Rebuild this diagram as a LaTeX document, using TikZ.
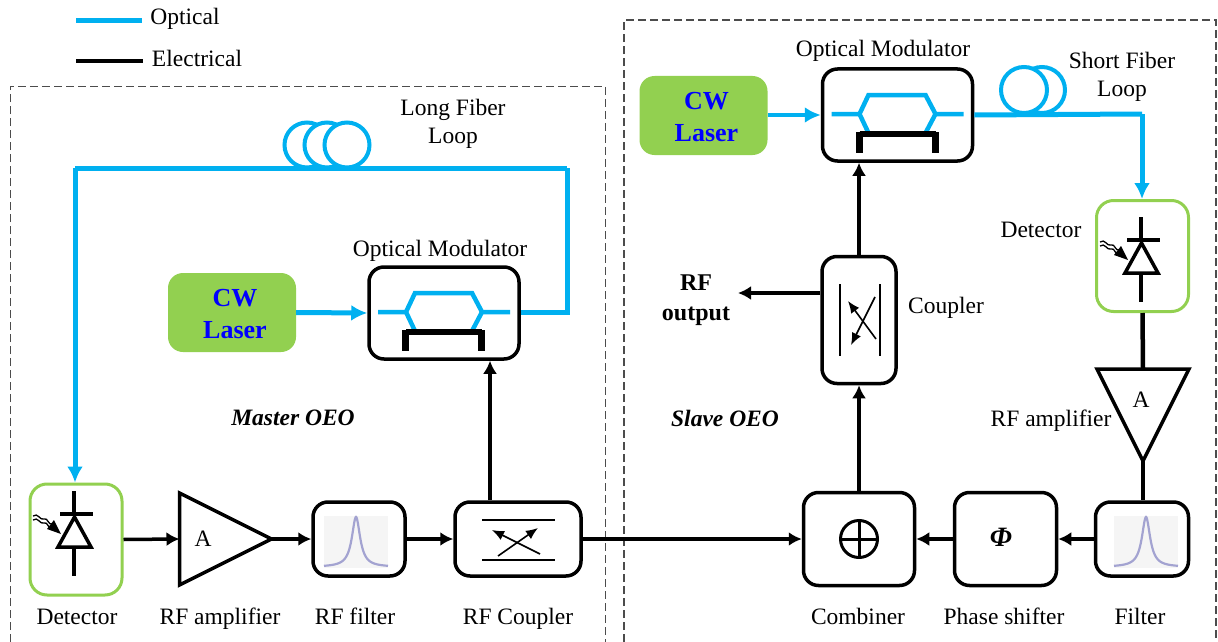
\documentclass[tikz,border=0pt]{standalone}
\usepackage{fontspec}
\setmainfont{Liberation Serif}
\usetikzlibrary{arrows.meta,shapes.geometric}
\definecolor{fibre}{RGB}{0,176,240}
\definecolor{leaf}{RGB}{146,208,80}
\definecolor{peak}{RGB}{120,120,190}
\tikzset{
  txt/.style={font=\fontsize{23.5}{28}\selectfont,inner sep=0pt,align=center},
  caption/.style={txt,anchor=base},
  boldtxt/.style={font=\fontsize{24}{30}\selectfont\bfseries,inner sep=0pt,align=center},
  slanttxt/.style={font=\fontsize{23.5}{30}\selectfont\bfseries\itshape,inner sep=0pt,align=center},
  lasertxt/.style={font=\fontsize{26}{32}\selectfont\bfseries,text=blue,align=center,inner sep=0pt},
  block/.style={draw,line width=3.5pt,rounded corners=15pt,minimum width=#1,inner sep=0pt},
  detbox/.style={draw=leaf,line width=3pt,rounded corners=17pt,minimum width=92pt,minimum height=111pt},
  laser/.style={fill=leaf,rounded corners=15pt,minimum width=128pt,minimum height=79pt,inner sep=0pt},
  amp/.style={draw,isosceles triangle,isosceles triangle stretches,line width=3.5pt,minimum width=92pt,minimum height=92pt,inner sep=0pt,outer sep=0pt,anchor=lower side},
  elec/.style={line width=3.5pt,-{Latex[length=13pt,width=14pt]}},
  wire/.style={line width=4.5pt},
  opt/.style={draw=fibre,line width=5pt,-{Latex[length=16pt,width=16pt]}},
  fib/.style={draw=fibre,line width=5pt},
  coil/.style={draw=fibre,line width=4pt,circle,fill=white,minimum size=45pt,inner sep=0pt},
  thin arrow/.style={line width=1.6pt,-{Latex[length=12pt,width=10pt]}},
  bound/.style={draw=black!70,line width=1pt,dash pattern=on 8pt off 4pt}
}
\begin{document}
\begin{tikzpicture}[x=1pt,y=-1pt,>=latex]
\useasboundingbox (0,0) rectangle (1218,642);
% group outlines
\draw[bound] (10,642) -- (10,86) -- (605,86) -- (605,642);
\draw[bound,line width=1.2pt] (624,642) -- (624,20) -- (1216,20) -- (1216,642);
% legend
\coordinate (optA) at (76,21);
\coordinate (optB) at (142,21);
\coordinate (elA) at (76,61);
\coordinate (elB) at (143,61);
\draw[fibre,line width=5pt] (optA) -- (optB);
\draw[line width=4pt] (elA) -- (elB);
\node[txt] (optical) at (185,18.5) {Optical};
\node[txt] (electrical) at (197,58) {Electrical};

% blocks
\node[detbox] (detM) at (76,539.5) {};
\node[block=92pt,minimum height=74pt] (filM) at (359,539) {};
\node[block=126pt,minimum height=74pt] (cplM) at (518,539) {};
\node[block=150pt,minimum height=92pt] (modM) at (444,313) {};
\node[laser] (lasM) at (232,312.5) {};
\node[lasertxt] (lasMtxt) at (235,314.5) {CW\\Laser};
\node[amp] (ampM) at (179.5,539) {};
\node[block=150pt,minimum height=92pt] (modS) at (897.5,115) {};
\node[laser] (lasS) at (703.5,115.5) {};
\node[lasertxt] (lasStxt) at (706.5,117.5) {CW\\Laser};
\node[block=74pt,minimum height=127pt] (cplS) at (859,320) {};
\node[detbox] (detS) at (1142.5,256) {};
\node[amp,shape border rotate=270] (ampS) at (1143,369) {};
\node[block=93pt,minimum height=74pt] (filS) at (1142,539) {};
\node[block=102pt,minimum height=93pt] (phs) at (1005.5,539) {};
\node[slanttxt,font=\fontsize{28}{30}\selectfont\bfseries\itshape] (phi) at (1001,537) {Φ};
\node[block=111pt,minimum height=93pt] (cmb) at (859,539) {};
\node[draw,circle,line width=3pt,minimum size=37pt,inner sep=0pt] (sum) at (859,539) {};
\draw[line width=3pt] (sum.north) -- (sum.south);
\draw[line width=3pt] (sum.west) -- (sum.east);

% fibre loops
\coordinate (fibB) at (75,168);
\coordinate (fibC) at (567,168);
\coordinate (fibD) at (567,312);
\node[coil] (coilA) at (307,145) {};
\node[coil] (coilB) at (327,145) {};
\node[coil] (coilC) at (347,145) {};
\node[coil,minimum size=46pt] (coilE) at (1042,90) {};
\node[coil,minimum size=46pt] (coilD) at (1024,90) {};
\coordinate (fibE) at (1142,114);
\draw[fib] (modM.east |- fibD) -- (fibD) -- (fibC);
\draw[fib] (fibC) -- (fibB);
\draw[opt] (fibB) -- (detM.north -| fibB);
\draw[opt] (lasM.east) -- (modM.west);
\draw[opt,line width=4pt] (lasS.east |- modS.west) -- (modS.west);
\draw[fib] (modS.east) -- (fibE);
\draw[opt] (fibE) -- (detS.north -| fibE);

% modulator insides
\foreach \mx/\my in {444/312,897.5/114}{
  \begin{scope}[shift={(\mx,\my)}]
    \draw[fibre,line width=4.5pt] (-66,0) -- (-38,0) -- (-29,-19) -- (28,-19) -- (38,0) -- (66,0);
    \draw[fibre,line width=4.5pt] (-38,0) -- (-29,19) (38,0) -- (28,19);
    \draw[line width=6pt] (-38,20) -- (38,20);
    \draw[line width=7pt] (-38.5,18) -- (-38.5,39);
    \draw[line width=7pt] (37.5,18) -- (37.5,39);
  \end{scope}
}
% diode symbols
\foreach \dx/\dy in {0/0,1067/-274}{
  \begin{scope}[shift={(\dx,\dy)}]
    \draw[line width=4pt] (74,491) -- (74,514);
    \draw[line width=4pt] (60,514) -- (93,514);
    \draw[line width=3.5pt,line join=miter] (74.5,517) -- (58,547) -- (91,547) -- cycle;
    \draw[line width=4pt] (74,547) -- (74,576);
    \draw[line width=1.3pt] (33,516) .. controls (38,512) and (40,521) .. (44,519) .. controls (48,517) and (48,526) .. (53,524);
    \draw[line width=1.3pt] (33,520) .. controls (38,516) and (40,525) .. (44,523) .. controls (48,521) and (48,530) .. (52,528);
    \fill (61,534) -- (47,529) -- (54,520) -- cycle;
  \end{scope}
}
% filter pictures
\foreach \fx/\fy in {356/542,1146/542}{
  \begin{scope}[shift={(\fx,\fy)}]
    \fill[black!4] (-32,-26) rectangle (32,26);
    \draw[peak,line width=2.2pt,opacity=.65,domain=-32:32,samples=121,smooth] plot (\x,{25-50/(1+(\x/5)*(\x/5))});
  \end{scope}
}
% coupler insides
\draw[line width=1.6pt] (482,520) -- (555,520);
\draw[line width=2.2pt] (482,560) -- (555,560);
\draw[thin arrow] (498,556) -- (538,528);
\draw[thin arrow] (540,554) -- (492,530);
\draw[line width=2pt] (840,284) -- (840,356);
\draw[line width=2pt] (880,284) -- (880,356);
\draw[thin arrow] (875,297) -- (851,345);
\draw[thin arrow] (876,339) -- (848,301);

% electrical links
\path[elec] (detM.east) edge (ampM.lower side);
\path[elec] (ampM.apex) edge (filM.west);
\path[elec] (filM.east) edge (cplM.west);
\path[elec] (cplM.east) edge (cmb.west);
\path[elec] (filS.west) edge (phs.east);
\path[elec] (phs.west) edge (cmb.east);
\path[elec] (cmb.north) edge (cplS.south);
\path[elec] (cplS.north) edge (modS.south -| cplS.north);
\path[wire] (detS.south) edge (ampS.lower side);
\path[wire] (ampS.apex) edge (filS.north -| ampS.apex);
\coordinate (rfout) at (738,293);
\coordinate (feedM) at (490,430);
\path[elec] (cplM.north -| feedM) edge (modM.south -| feedM);
\path[elec] (cplS.west |- rfout) edge (rfout);

% labels
\node[txt] (lblLong) at (453,124) {Long Fiber\\Loop};
\node[txt] (lblShort) at (1122,77) {Short Fiber\\Loop};
\node[txt] (lblModM) at (440,250.5) {Optical Modulator};
\node[txt] (lblModS) at (883,51) {Optical Modulator};
\node[boldtxt] (lblOut) at (696,300) {RF\\output};
\node[txt] (lblCpl) at (946,308) {Coupler};
\node[txt] (lblDetS) at (1041,230) {Detector};
\node[txt] (lblAmpS) at (1051,420.5) {RF amplifier};
\node[txt] (lblA) at (203,539) {A};
\node[txt] (lblB) at (1141,400) {A};
\node[slanttxt] (lblMaster) at (293,418) {Master OEO};
\node[slanttxt] (lblSlave) at (725,418) {Slave OEO};
\node[caption] (lblDet) at (77,624) {Detector};
\node[caption] (lblAmp) at (220,624) {RF amplifier};
\node[caption] (lblFil) at (355,624) {RF filter};
\node[caption] (lblCoup) at (518,624) {RF Coupler};
\node[caption] (lblCmb) at (858,624) {Combiner};
\node[caption] (lblPhs) at (1004,624) {Phase shifter};
\node[caption] (lblFilS) at (1140,624) {Filter};
\end{tikzpicture}
\end{document}
